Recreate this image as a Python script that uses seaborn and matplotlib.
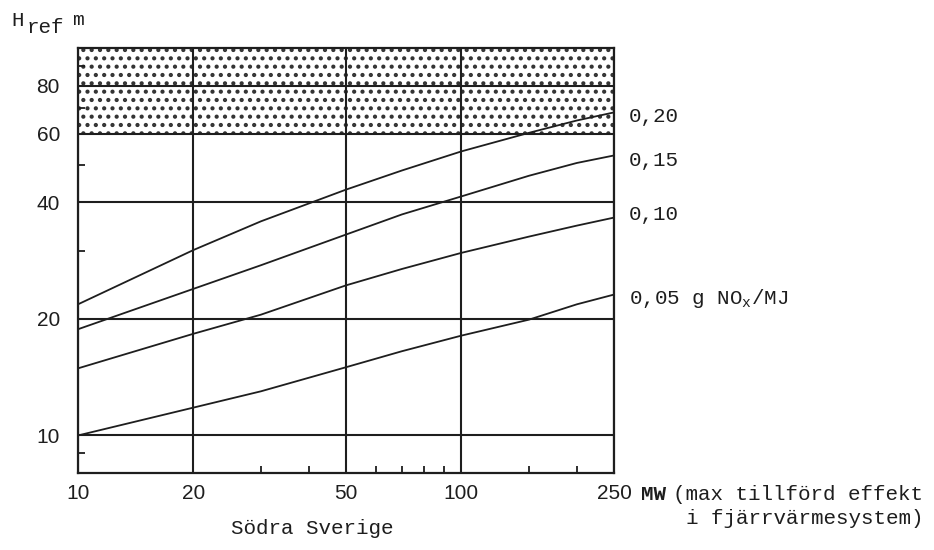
import numpy as np
import pandas as pd
import matplotlib
matplotlib.use("Agg")
import matplotlib.pyplot as plt
from matplotlib.ticker import FixedLocator, FixedFormatter, NullFormatter
import seaborn as sns

# ---- data ----
mw = [10, 20, 30, 50, 70, 100, 150, 200, 250]
h_005 = [10.0, 11.8, 13.0, 15.0, 16.5, 18.1, 19.9, 21.8, 23.1]
h_010 = [14.9, 18.3, 20.5, 24.4, 26.9, 29.6, 32.6, 34.8, 36.5]
h_015 = [18.8, 23.9, 27.5, 33.0, 37.2, 41.4, 46.8, 50.5, 52.8]
h_020 = [21.8, 30.1, 35.7, 43.1, 48.3, 54.1, 60.4, 65.0, 68.2]
series_names = ["0,05", "0,10", "0,15", "0,20"]
series_labels = ["0,05 g NO$_{\\mathrm{x}}$/MJ", "0,10", "0,15", "0,20"]
x_ticks = [10, 20, 50, 100, 250]
x_minor = [30, 40, 60, 70, 80, 90, 150, 200]
y_ticks = [10, 20, 40, 60, 80]
y_minor = [9, 30, 50, 70, 90]
shade_range = [60, 100]

df = pd.DataFrame({
    "MW": mw * 4,
    "H": h_005 + h_010 + h_015 + h_020,
    "serie": sum([[n] * len(mw) for n in series_names], []),
})

sns.set_theme(style="white")
plt.rcParams["font.family"] = ["Liberation Sans", "DejaVu Sans"]
plt.rcParams["mathtext.fontset"] = "custom"
plt.rcParams["mathtext.rm"] = "Liberation Mono"
plt.rcParams["mathtext.it"] = "Liberation Mono"
plt.rcParams["hatch.linewidth"] = 1.8

INK = "#1e1e1e"
W, H = 934, 550
fig = plt.figure(figsize=(W / 100, H / 100), dpi=100, facecolor="white")
ax = fig.add_axes([78 / W, 1 - 473 / H, (614 - 78) / W, (473 - 48) / H])
ax.set_facecolor("white")

# shaded (dotted) region
ax.axhspan(shade_range[0], shade_range[1], facecolor="white", edgecolor="#333333",
           hatch="..", linewidth=0, zorder=0)

sns.lineplot(data=df, x="MW", y="H", hue="serie", palette=[INK] * 4,
             linewidth=1.3, legend=False, ax=ax, zorder=3)
ax.set_xlabel("")
ax.set_ylabel("")

ax.set_xscale("log")
ax.set_yscale("log")
ax.set_xlim(10, 250)
ax.set_ylim(8, 100)

ax.xaxis.set_major_locator(FixedLocator(x_ticks))
ax.xaxis.set_major_formatter(FixedFormatter([str(v) for v in x_ticks]))
ax.xaxis.set_minor_locator(FixedLocator(x_minor))
ax.xaxis.set_minor_formatter(NullFormatter())
ax.yaxis.set_major_locator(FixedLocator(y_ticks))
ax.yaxis.set_major_formatter(FixedFormatter([str(v) for v in y_ticks]))
ax.yaxis.set_minor_locator(FixedLocator(y_minor))
ax.yaxis.set_minor_formatter(NullFormatter())

ax.grid(which="major", color=INK, linewidth=1.5)
ax.grid(which="minor", visible=False)
ax.tick_params(which="major", length=0, labelsize=15, colors=INK)
ax.tick_params(axis="y", which="major", pad=13)
ax.tick_params(axis="x", which="major", pad=8)
ax.tick_params(which="minor", direction="in", length=5, width=1.3, color=INK,
               bottom=True, left=True)
for s in ax.spines.values():
    s.set_visible(True)
    s.set_color(INK)
    s.set_linewidth(1.6)

mono = ["Liberation Mono", "DejaVu Sans Mono"]

def ptext(px, py, s, **kw):
    kw.setdefault("family", mono)
    kw.setdefault("fontsize", 15)
    kw.setdefault("color", INK)
    fig.text(px / W, 1 - py / H, s, **kw)

# curve labels on the right
label_y = {"0,20": 117, "0,15": 161, "0,10": 215, "0,05": 298}
for n, lab in zip(series_names, series_labels):
    ptext(629, label_y[n], lab, ha="left", va="center")

# axis titles
ptext(11, 26, "H", ha="left", va="baseline", fontsize=15)
ptext(27, 33, "ref", ha="left", va="baseline", fontsize=15)
ptext(72, 25, "m", ha="left", va="baseline", fontsize=14)
ptext(641, 495, "MW", ha="left", va="center", fontsize=15, fontweight="bold")
ptext(923, 495, "(max tillförd effekt", ha="right", va="center")
ptext(923, 518, "i fjärrvärmesystem)", ha="right", va="center")
ptext(312, 528, "Södra Sverige", ha="center", va="center")

fig.savefig("out.png", dpi=100, facecolor="white")
